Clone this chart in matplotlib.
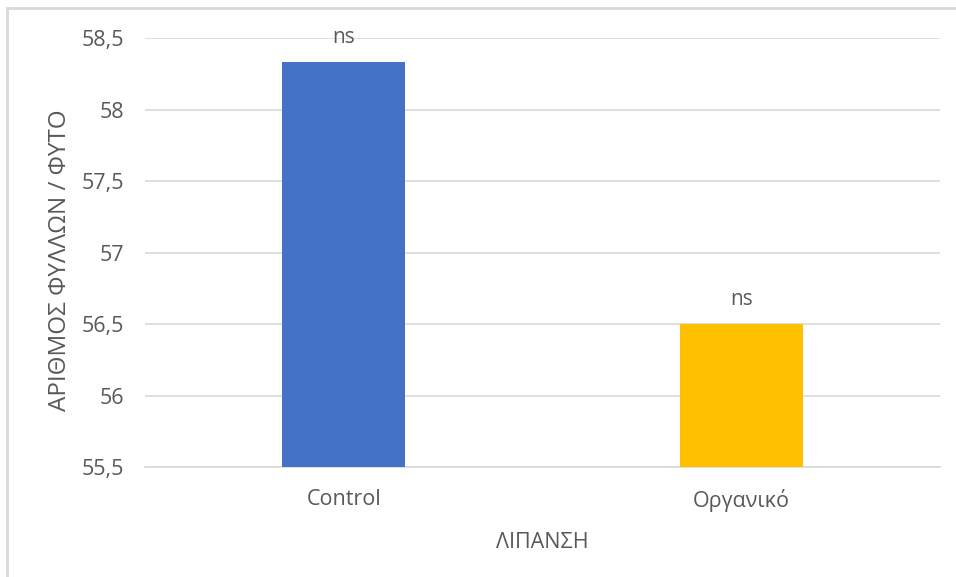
import matplotlib.pyplot as plt
from matplotlib.patches import Rectangle
from matplotlib.ticker import FuncFormatter

categories = ['Control', 'Οργανικό']
values = [58.33, 56.5]
labels = ['ns', 'ns']
colors = ['#4472C4', '#FFC000']

plt.rcParams['font.family'] = ['Open Sans', 'DejaVu Sans']
txt = '#595959'

fig = plt.figure(figsize=(9.56, 5.77), dpi=100)
ax = fig.add_axes([0.1517, 0.1906, 0.8316, 0.7435])

x = range(len(categories))
bars = ax.bar(x, values, width=0.31, color=colors, zorder=3)
ax.set_ylim(55.5, 58.5)
ax.set_xlim(-0.5, 1.5)
ax.set_yticks([55.5, 56, 56.5, 57, 57.5, 58, 58.5])
ax.yaxis.set_major_formatter(FuncFormatter(lambda v, p: ('%g' % v).replace('.', ',')))
ax.set_xticks(list(x))
ax.set_xticklabels(categories)

for b, lab in zip(bars, labels):
    ax.annotate(lab, (b.get_x() + b.get_width() / 2, b.get_height()),
                xytext=(0, 18), textcoords='offset points', ha='center', va='center',
                fontsize=15, color=txt, annotation_clip=False)

ax.grid(axis='y', color='#D9D9D9', linewidth=1.2, zorder=0)
for s in ['top', 'right', 'left']:
    ax.spines[s].set_visible(False)
ax.spines['bottom'].set_color('#D9D9D9')
ax.spines['bottom'].set_linewidth(1.2)
ax.tick_params(axis='both', length=0, labelsize=15.5, colors=txt)
ax.tick_params(axis='y', pad=15)
ax.tick_params(axis='x', pad=16)

ax.set_xlabel('ΛΙΠΑΝΣΗ', fontsize=15.5, color=txt, labelpad=14)
ax.set_ylabel('ΑΡΙΘΜΟΣ ΦΥΛΛΩΝ / ΦΥΤΟ', fontsize=17.5, color=txt)
ax.yaxis.set_label_coords(-0.092, 0.4825)

# chart border (only left/top visible in the crop)
fig.patches.append(Rectangle((7 / 956, -0.05), 1.2, 1 - 8 / 577 + 0.05,
                             transform=fig.transFigure, fill=False,
                             edgecolor='#D9D9D9', linewidth=2))

fig.savefig('out.png', dpi=100)
